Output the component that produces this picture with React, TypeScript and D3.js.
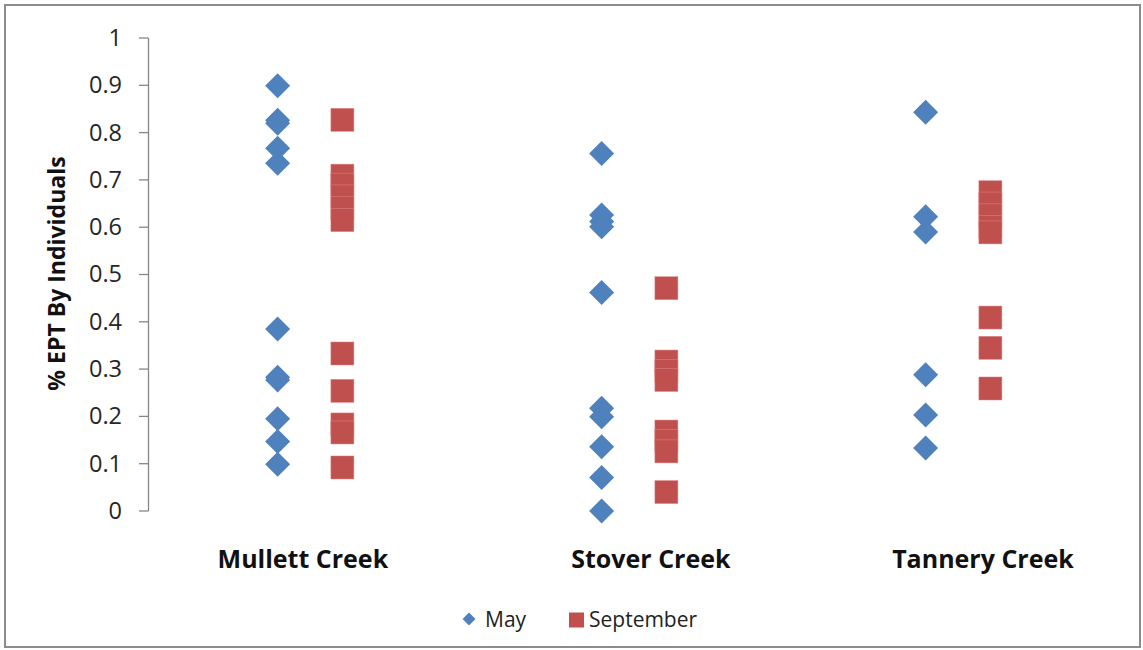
import React from "react";
import * as d3 from "d3";

const categories = ["Mullett Creek", "Stover Creek", "Tannery Creek"];
const seriesNames = ["May", "September"];

const mayMullett = [0.899, 0.826, 0.82, 0.767, 0.735, 0.385, 0.283, 0.277, 0.195, 0.147, 0.099];
const mayStover = [0.756, 0.626, 0.612, 0.601, 0.462, 0.217, 0.199, 0.136, 0.071, 0.0];
const mayTannery = [0.843, 0.622, 0.59, 0.288, 0.203, 0.133];

const sepMullett = [0.827, 0.709, 0.69, 0.665, 0.64, 0.615, 0.333, 0.254, 0.183, 0.166, 0.092];
const sepStover = [0.471, 0.316, 0.296, 0.277, 0.168, 0.148, 0.126, 0.04];
const sepTannery = [0.674, 0.65, 0.625, 0.6, 0.589, 0.409, 0.345, 0.259];

const mayValues = [mayMullett, mayStover, mayTannery];
const septValues = [sepMullett, sepStover, sepTannery];

const yTicks = [0, 0.1, 0.2, 0.3, 0.4, 0.5, 0.6, 0.7, 0.8, 0.9, 1];
const yTitle = "% EPT By Individuals";
const labelShift = [-0.022, 0.052, 0.077];

const W = 1143;
const H = 650;
const BLUE = "#4F81BD";
const RED = "#C0504D";
const FONT = "'Open Sans', 'Liberation Sans', sans-serif";

export default function App() {
  const x = d3.scaleLinear().domain([-0.5, 2.5]).range([148, 1120]);
  const y = d3.scaleLinear().domain([0, 1]).range([511, 38]);
  const offset = 0.1;
  const diamond = (cx: number, cy: number, r: number) =>
    `M${cx},${cy - r}L${cx + r},${cy}L${cx},${cy + r}L${cx - r},${cy}Z`;
  const sq = 23;

  return (
    <svg
      width={W}
      height={H}
      style={{ position: "absolute", left: 0, top: 0, background: "#fff" }}
    >
      <rect x={5} y={5} width={1135} height={642} fill="#fff" stroke="#8c8c8c" strokeWidth={2} />
      {/* y axis */}
      <line x1={148.5} x2={148.5} y1={y(1)} y2={y(0)} stroke="#868686" strokeWidth={1.3} />
      {yTicks.map((t) => (
        <g key={t}>
          <line x1={139} x2={148.5} y1={y(t)} y2={y(t)} stroke="#868686" strokeWidth={1.3} />
          <text
            x={122}
            y={y(t)}
            dy="0.34em"
            textAnchor="end"
            fontFamily={FONT}
            fontSize={23.5}
            fill="#262626"
          >
            {d3.format("")(t)}
          </text>
        </g>
      ))}
      <text
        transform={`translate(65,${(y(0) + y(1)) / 2 - 1}) rotate(-90)`}
        textAnchor="middle"
        fontFamily={FONT}
        fontWeight="bold"
        fontSize={23}
        fill="#111"
      >
        {yTitle}
      </text>
      {/* category labels */}
      {categories.map((c, i) => (
        <text
          key={c}
          x={x(i + labelShift[i])}
          y={568}
          textAnchor="middle"
          fontFamily={FONT}
          fontWeight="bold"
          fontSize={25}
          fill="#111"
        >
          {c}
        </text>
      ))}
      {/* May */}
      {mayValues.map((vals, i) =>
        vals.map((v, j) => (
          <path key={`m${i}-${j}`} d={diamond(x(i - offset), y(v), 12.5)} fill={BLUE} />
        ))
      )}
      {/* September */}
      {septValues.map((vals, i) =>
        vals.map((v, j) => (
          <rect
            key={`s${i}-${j}`}
            x={x(i + offset) - sq / 2}
            y={y(v) - sq / 2}
            width={sq}
            height={sq}
            fill={RED}
            stroke="#d88"
            strokeWidth={0.5}
          />
        ))
      )}
      {/* legend */}
      <path d={diamond(469, 619, 6.5)} fill={BLUE} />
      <text x={485} y={627} fontFamily={FONT} fontSize={21} fill="#222">
        {seriesNames[0]}
      </text>
      <rect x={569} y={612.5} width={15} height={15} fill={RED} />
      <text x={589} y={627} fontFamily={FONT} fontSize={21} fill="#222">
        {seriesNames[1]}
      </text>
    </svg>
  );
}
